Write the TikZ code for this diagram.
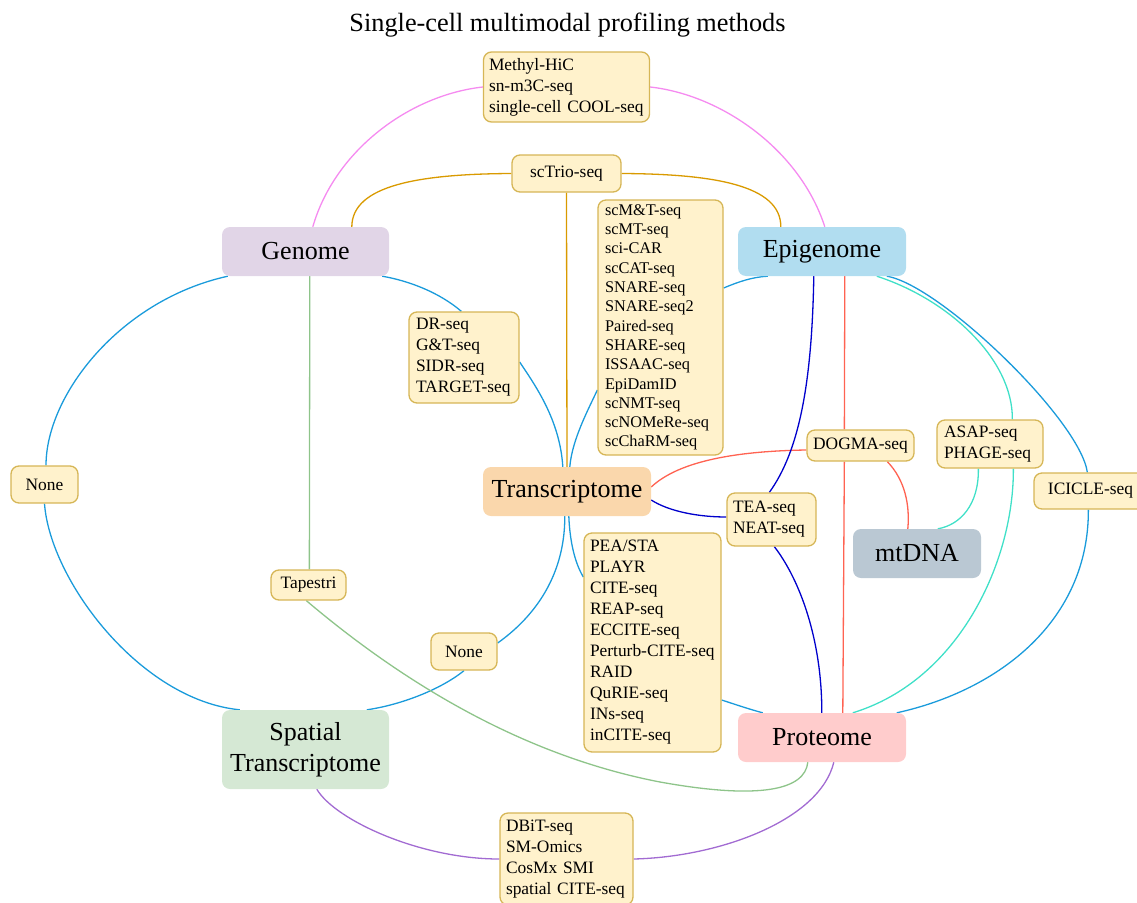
\documentclass[tikz,border=0pt]{standalone}
\usepackage{fontspec}
\setmainfont{Liberation Serif}
\usetikzlibrary{calc}
\exhyphenpenalty=10000
\hyphenpenalty=10000
\definecolor{lblfill}{HTML}{FFF2CC}
\definecolor{lbldraw}{HTML}{D6B656}
\definecolor{cgen}{HTML}{E1D5E7}
\definecolor{cepi}{HTML}{B1DDF0}
\definecolor{ctra}{HTML}{FAD7AC}
\definecolor{cmt}{HTML}{BAC8D3}
\definecolor{cspa}{HTML}{D5E8D4}
\definecolor{cpro}{HTML}{FFCCCC}
\definecolor{epink}{HTML}{F58BF0}
\definecolor{eorange}{HTML}{D99A00}
\definecolor{eblue}{HTML}{1A9BDB}
\definecolor{eturq}{HTML}{40E0C8}
\definecolor{ered}{HTML}{FF6352}
\definecolor{edblue}{HTML}{0000CC}
\definecolor{egreen}{HTML}{8EC48A}
\definecolor{epurple}{HTML}{A26BD2}
\pgfdeclarelayer{bg}
\pgfsetlayers{bg,main}
\begin{document}
\begin{tikzpicture}[x=1pt,y=-1pt,
  mainbox/.style={rounded corners=8pt, inner sep=0pt, minimum height=49pt,
    font=\fontsize{26}{31}\selectfont, align=center},
  lbl/.style={draw=lbldraw, fill=lblfill, rounded corners=8pt, line width=1.3pt,
    inner xsep=6pt, inner ysep=2pt, font=\fontsize{17.4}{21}\selectfont},
  lblL/.style={lbl, align=left, text width=#1},
  conn/.style={line width=1.3pt},
]
\useasboundingbox (0,0) rectangle (1137,902);

\node[anchor=base, font=\fontsize{26.3}{31}\selectfont] (title) at (567.5,31) {Single-cell multimodal profiling methods};

% main nodes
\node[mainbox, fill=cgen, minimum width=167pt] (gen) at (305.5,251.5) {Genome};
\node[mainbox, fill=cepi, minimum width=168pt] (epi) at (822,251.5) {Epigenome};
\node[mainbox, fill=ctra, minimum width=168pt] (tra) at (567,491.5) {Transcriptome};
\node[mainbox, fill=cmt, minimum width=128pt] (mt) at (917,553.5) {mtDNA};
\node[mainbox, fill=cspa, minimum width=167pt, minimum height=79pt] (spa) at (305.5,749.5) {Spatial\\Transcriptome};
\node[mainbox, fill=cpro, minimum width=168pt] (pro) at (822,737.5) {Proteome};

% label boxes
\node[lblL=155pt, inner xsep=5.5pt, minimum height=70pt] (meth) at (566.5,87) {Methyl-HiC\\sn-m3C-seq\\single-cell COOL-seq};
\node[lbl, minimum width=109pt, minimum height=37pt] (trio) at (566.5,173.5) {scTrio-seq};
\node[lblL=111pt, inner xsep=7pt, minimum height=255pt, font=\fontsize{16.3}{19.3}\selectfont] (mtb) at (660.5,327.5)
  {scM\&T-seq\\scMT-seq\\sci-CAR\\scCAT-seq\\SNARE-seq\\SNARE-seq2\\Paired-seq\\SHARE-seq\\ISSAAC-seq\\EpiDamID\\scNMT-seq\\scNOMeRe-seq\\scChaRM-seq};
\node[lblL=96pt, inner xsep=7pt, minimum height=91pt] (dr) at (464,357.5) {DR-seq\\G\&T-seq\\SIDR-seq\\TARGET-seq};
\node[lbl, minimum width=67pt, minimum height=37pt] (none1) at (44.5,484.5) {None};
\node[lbl, minimum width=107pt, minimum height=31pt] (dogma) at (860.5,445.5) {DOGMA-seq};
\node[lblL=92pt, inner xsep=7pt, minimum height=48pt] (asap) at (990,444) {ASAP-seq\\PHAGE-seq};
\node[lbl, minimum width=113pt, minimum height=36pt] (icicle) at (1090.5,491) {ICICLE-seq};
\node[lblL=77pt, minimum height=53pt] (tea) at (771.5,519.5) {TEA-seq\\NEAT-seq};
\node[lblL=125pt, minimum height=219pt] (pea) at (652.5,642.5)
  {PEA/STA\\PLAYR\\CITE-seq\\REAP-seq\\ECCITE-seq\\Perturb-CITE-seq\\RAID\\QuRIE-seq\\INs-seq\\inCITE-seq};
\node[lbl, minimum width=75pt, minimum height=30pt] (tap) at (308.5,585) {Tapestri};
\node[lbl, minimum width=66pt, minimum height=37pt] (none2) at (464,651.5) {None};
\node[lblL=121pt, minimum height=92pt] (dbit) at (566.5,859) {DBiT-seq\\SM-Omics\\CosMx SMI\\spatial CITE-seq};

\begin{pgfonlayer}{bg}
% pink
\draw[conn, epink] ([xshift=91pt]gen.north west) .. controls (335,150) and (410,95) .. (meth.west);
\draw[conn, epink] (meth.east) .. controls (722,95) and (800,150) .. ([xshift=87pt]epi.north west);
% orange
\draw[conn, eorange] ([xshift=130pt]gen.north west) .. controls (352,185) and (420,174) .. (trio.west);
\draw[conn, eorange] (trio.east) .. controls (713,174) and (781,185) .. ([xshift=43pt]epi.north west);
\draw[conn, eorange] (trio.south) -- (tra.north);
% blue
\draw[conn, eblue] ([xshift=-7pt]gen.south east) .. controls (410,281) and (440,293) .. ([xshift=53pt]dr.north west);
\draw[conn, eblue] ([yshift=-4.5pt]dr.east) .. controls (535,385) and (560,420) .. ([xshift=80pt]tra.north west);
\draw[conn, eblue] ([xshift=30pt]epi.south west) .. controls (752,277) and (738,282) .. ([yshift=39.5pt]mtb.east);
\draw[conn, eblue] ([yshift=-62.5pt]mtb.west) .. controls (588,410) and (572,440) .. ([xshift=87pt]tra.north west);
\draw[conn, eblue] ([xshift=6pt]gen.south west) .. controls (120,300) and (46,395) .. ([xshift=1.5pt]none1.north);
\draw[conn, eblue] (none1.south) .. controls (50,580) and (140,700) .. ([xshift=18pt]spa.north west);
\draw[conn, eblue] ([xshift=82pt]tra.south west) .. controls (565,580) and (530,620) .. ([yshift=8.5pt]none2.east);
\draw[conn, eblue] (none2.south) .. controls (440,690) and (400,705) .. ([xshift=145pt]spa.north west);
\draw[conn, eblue] ([xshift=86pt]tra.south west) .. controls (570,545) and (576,565) .. ([yshift=65.5pt]pea.west);
\draw[conn, eblue] ([yshift=-57.5pt]pea.east) .. controls (740,706) and (752,710) .. ([xshift=25pt]pro.north west);
\draw[conn, eblue] ([xshift=149pt]epi.south west) .. controls (940,285) and (1080,420) .. ([xshift=54pt]icicle.north west);
\draw[conn, eblue] ([xshift=55pt]icicle.south west) .. controls (1089,620) and (1000,690) .. ([xshift=159pt]pro.north west);
% turquoise
\draw[conn, eturq] ([xshift=139pt]epi.south west) .. controls (950,300) and (1013,360) .. ([xshift=76pt]asap.north west);
\draw[conn, eturq] ([xshift=77pt]asap.south west) .. controls (1014,560) and (960,680) .. ([xshift=115pt]pro.north west);
\draw[conn, eturq] ([xshift=42pt]asap.south west) .. controls (979,505) and (960,525) .. ([xshift=85pt]mt.north west);
% red
\draw[conn, ered] ([yshift=4.5pt]tra.east) .. controls (680,460) and (740,451) .. ([yshift=-4.5pt]dogma.west);
\draw[conn, ered] ([xshift=107pt]epi.south west) -- ([xshift=38pt]dogma.north west);
\draw[conn, ered] ([xshift=38pt]dogma.south west) -- ([xshift=105pt]pro.north west);
\draw[conn, ered] ([xshift=81pt]dogma.south west) .. controls (905,480) and (910,505) .. ([xshift=55pt]mt.north west);
% dark blue
\draw[conn, edblue] ([xshift=76pt]epi.south west) .. controls (812,380) and (800,450) .. ([xshift=43pt]tea.north west);
\draw[conn, edblue] ([yshift=-8.5pt]tra.east) .. controls (670,512) and (700,517) .. ([yshift=2.5pt]tea.west);
\draw[conn, edblue] ([xshift=48pt]tea.south west) .. controls (800,580) and (822,640) .. ([xshift=84pt]pro.north west);
% green
\draw[conn, egreen] ([xshift=88pt]gen.south west) -- ([xshift=39pt]tap.north west);
\draw[conn, egreen] ([xshift=36pt]tap.south west) .. controls (400,680) and (520,755) .. (660,782)
  .. controls (760,800) and (805,790) .. ([xshift=70pt]pro.south west);
% purple
\draw[conn, epurple] ([xshift=95pt]spa.south west) .. controls (335,820) and (420,859) .. (dbit.west);
\draw[conn, epurple] (dbit.east) .. controls (720,857) and (820,820) .. ([xshift=96pt]pro.south west);
\end{pgfonlayer}
\end{tikzpicture}
\end{document}
